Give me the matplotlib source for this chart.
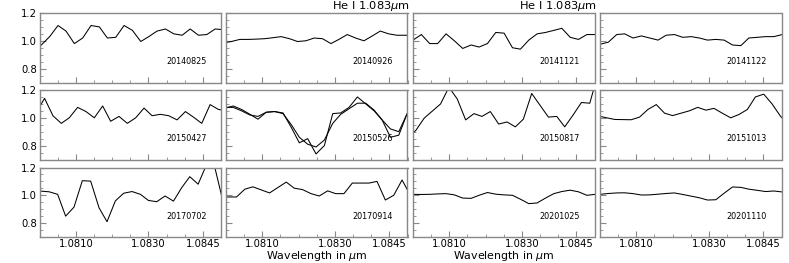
import numpy as np
import matplotlib.pyplot as plt
from matplotlib.ticker import FixedLocator, MultipleLocator, NullFormatter

# common wavelength sampling (micron); each date has its own small shift
wave = [1.07977, 1.08000, 1.08023, 1.08046, 1.08068, 1.08091, 1.08114, 1.08137,
        1.08160, 1.08182, 1.08205, 1.08228, 1.08251, 1.08274, 1.08296, 1.08319,
        1.08342, 1.08365, 1.08388, 1.08410, 1.08433, 1.08456, 1.08479, 1.08502]

dates = ["20140825", "20140926", "20141121", "20141122",
         "20150427", "20150526", "20150817", "20151013",
         "20170702", "20170914", "20201025", "20201110"]

shifts = [0.00005, 0.00015, 0.0, 0.0,
          0.00014, 0.00020, 0.00008, 0.00018,
          0.00004, 0.00006, 0.0, 0.0]

f_20140825 = [0.91, 0.97, 1.03, 1.11, 1.07, 0.98, 1.02, 1.11, 1.10, 1.02, 1.025, 1.11,
              1.075, 0.995, 1.03, 1.07, 1.085, 1.05, 1.04, 1.085, 1.04, 1.045, 1.085, 1.08]
f_20140926 = [0.985, 0.995, 1.01, 1.01, 1.012, 1.015, 1.022, 1.03, 1.015, 0.995, 1.0, 1.02,
              1.015, 0.98, 1.01, 1.045, 1.02, 1.0, 1.035, 1.07, 1.05, 1.04, 1.04, 1.04]
f_20141121 = [0.97, 1.005, 1.045, 0.98, 0.98, 1.05, 1.0, 0.945, 0.97, 0.955, 0.98, 1.06,
              1.055, 0.95, 0.94, 1.005, 1.05, 1.06, 1.075, 1.09, 1.025, 1.01, 1.045, 1.045]
f_20141122 = [0.96, 0.975, 0.99, 1.045, 1.05, 1.02, 1.035, 1.02, 1.005, 1.04, 1.045, 1.025,
              1.03, 1.02, 1.005, 1.01, 1.005, 0.97, 0.965, 1.02, 1.025, 1.03, 1.03, 1.045]
f_20150427 = [1.04, 1.14, 1.015, 0.96, 1.0, 1.075, 1.045, 1.0, 1.085, 0.975, 1.01, 0.96,
              1.0, 1.07, 1.015, 1.025, 1.015, 0.985, 1.045, 1.005, 0.96, 1.095, 1.06, 1.05]
f_20150526a = [1.07, 1.085, 1.06, 1.025, 0.99, 1.04, 1.045, 1.035, 0.93, 0.82, 0.85, 0.74,
               0.80, 1.03, 1.035, 1.075, 1.15, 1.10, 1.05, 0.985, 0.86, 0.875, 1.03, 1.05]
f_20150526b = [1.075, 1.075, 1.05, 1.02, 1.01, 1.04, 1.045, 1.03, 0.95, 0.86, 0.81, 0.79,
               0.84, 0.96, 1.025, 1.065, 1.105, 1.105, 1.055, 0.985, 0.92, 0.90, 1.03, 1.05]
f_20150817 = [0.85, 0.91, 0.998, 1.05, 1.10, 1.22, 1.135, 0.985, 1.03, 1.01, 1.045, 0.955,
              0.97, 0.935, 0.99, 1.175, 1.09, 1.005, 1.01, 0.935, 1.02, 1.11, 1.105, 1.32]
f_20151013 = [1.013, 1.0, 0.988, 0.987, 0.986, 1.005, 1.06, 1.095, 1.033, 1.016, 1.033, 1.05,
              1.075, 1.055, 1.068, 1.033, 1.0, 1.024, 1.06, 1.15, 1.17, 1.10, 1.012, 0.95]
f_20170702 = [1.035, 1.03, 1.025, 1.007, 0.85, 0.915, 1.105, 1.102, 0.91, 0.81, 0.96, 1.015,
              1.027, 1.007, 0.963, 0.954, 0.995, 0.958, 1.056, 1.134, 1.08, 1.22, 1.20, 0.95]
f_20170914 = [0.988, 0.988, 0.988, 1.044, 1.061, 1.039, 1.017, 1.056, 1.095, 1.051, 1.041, 1.012,
              0.995, 1.032, 1.012, 1.012, 1.088, 1.088, 1.088, 1.10, 0.966, 1.0, 1.11, 1.0]
f_20201025 = [1.007, 1.007, 1.006, 1.007, 1.01, 1.012, 1.003, 0.98, 0.978, 1.0, 1.02, 1.008,
              1.003, 1.0, 0.972, 0.94, 0.945, 0.98, 1.012, 1.027, 1.037, 1.025, 1.0, 1.007]
f_20201110 = [1.005, 1.007, 1.013, 1.017, 1.018, 1.012, 1.002, 1.003, 1.008, 1.013, 1.017, 1.006,
              0.994, 0.982, 0.966, 0.968, 1.015, 1.06, 1.057, 1.044, 1.036, 1.027, 1.031, 1.024]

spectra = [[f_20140825], [f_20140926], [f_20141121], [f_20141122],
           [f_20150427], [f_20150526a, f_20150526b], [f_20150817], [f_20151013],
           [f_20170702], [f_20170914], [f_20201025], [f_20201110]]

W, H = 789, 263
fig = plt.figure(figsize=(W / 100, H / 100), dpi=100)

col_left = [39.5, 226, 413, 600]
row_top = [13, 90, 167.5]
ax_w, ax_h = 181.5, 69.5

gray = "#888888"
for i in range(12):
    r, c = divmod(i, 4)
    ax = fig.add_axes([col_left[c] / W, 1 - (row_top[r] + ax_h) / H, ax_w / W, ax_h / H])
    x = np.array(wave) + shifts[i]
    for flux in spectra[i]:
        ax.plot(x, flux, color="black", lw=0.75)
    ax.set_xlim(1.0800, 1.0850)
    ax.set_ylim(0.7, 1.2)
    ax.xaxis.set_major_locator(FixedLocator([1.0810, 1.0830, 1.0845]))
    ax.xaxis.set_minor_locator(MultipleLocator(0.0005))
    ax.yaxis.set_major_locator(FixedLocator([0.8, 1.0, 1.2]))
    ax.yaxis.set_minor_locator(MultipleLocator(0.05))
    ax.tick_params(which="both", direction="in", color=gray, labelsize=7.2, pad=2)
    ax.tick_params(axis="x", pad=1.2)
    ax.tick_params(which="major", length=4)
    ax.tick_params(which="minor", length=2)
    for sp in ax.spines.values():
        sp.set_color(gray)
        sp.set_linewidth(1.0)
    if r == 2:
        ax.set_xticklabels(["1.0810", "1.0830", "1.0845"])
    else:
        ax.xaxis.set_major_formatter(NullFormatter())
    if c == 0:
        ax.set_yticklabels(["0.8", "1.0", "1.2"])
    else:
        ax.yaxis.set_major_formatter(NullFormatter())
    ax.text(0.92, 0.3, dates[i], transform=ax.transAxes, ha="right", va="center", fontsize=5.8)
    if r == 0 and c in (1, 2):
        ax.text(0.8, 1.0, r"He I 1.083$\mu$m", transform=ax.transAxes,
                ha="center", va="bottom", fontsize=8.2)
    if r == 2 and c in (1, 2):
        xc = (col_left[c] + ax_w / 2) / W
        fig.text(xc, 0.3 / H, r"Wavelength in $\mu$m", ha="center", va="bottom", fontsize=7.9)

fig.savefig("out.png", dpi=100)
